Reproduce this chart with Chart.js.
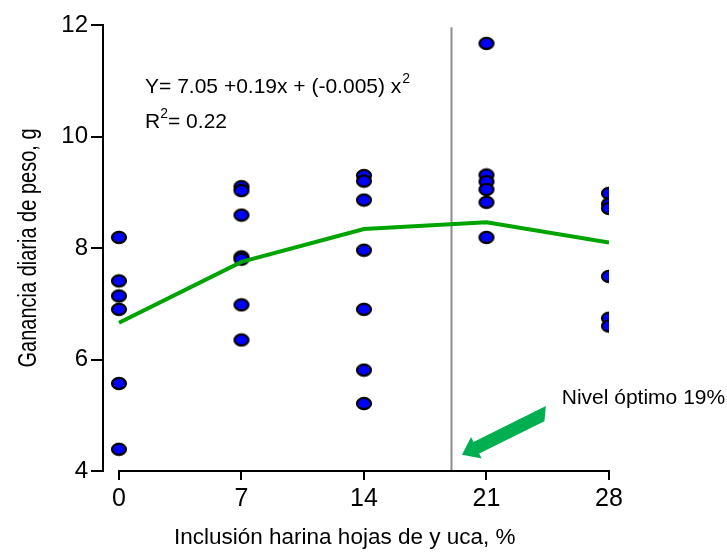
<!DOCTYPE html>
<html>
<head>
<meta charset="utf-8">
<script src="https://cdn.jsdelivr.net/npm/chart.js@4.4.1/dist/chart.umd.min.js"></script>
<style>
  body { margin: 0; background: #fff; }
  #chart { display: block; }
</style>
</head>
<body>
<canvas id="chart" width="727" height="552"></canvas>
<script>
// Inclusion levels (%) and daily weight gain (g)
const levels = [0, 7, 14, 21, 28];
const gain0 = [8.19, 7.41, 7.14, 6.90, 5.57, 4.39];
const gain7 = [9.10, 9.03, 8.59, 7.84, 7.80, 6.98, 6.35];
const gain14 = [9.30, 9.20, 8.86, 7.96, 6.90, 5.81, 5.21];
const gain21 = [11.67, 9.31, 9.19, 9.05, 8.82, 8.19];
const gain28 = [8.98, 8.79, 8.71, 7.49, 6.74, 6.60];
const fitted = [6.66, 7.75, 8.34, 8.46, 8.10];
const xTicks = [0, 7, 14, 21, 28];
const yTicks = [4, 6, 8, 10, 12];
const optimo = 19;

const groups = [gain0, gain7, gain14, gain21, gain28];
const FONT = "'Liberation Sans', Arial, Helvetica, sans-serif";

// blue oval marker with black rim
function makeDot() {
  const c = document.createElement('canvas');
  c.width = 18; c.height = 15;
  const g = c.getContext('2d');
  g.beginPath();
  g.ellipse(9, 7.5, 7.0, 5.6, 0, 0, Math.PI * 2);
  g.fillStyle = '#0000ff';
  g.fill();
  g.lineWidth = 2.2;
  g.strokeStyle = '#000';
  g.stroke();
  return c;
}

const extras = {
  id: 'extras',
  beforeDatasetsDraw(chart) {
    const { ctx, chartArea, scales: { x, y } } = chart;
    ctx.save();
    // optimum level marker
    const px = x.getPixelForValue(optimo);
    ctx.strokeStyle = '#8c8c8c';
    ctx.lineWidth = 2;
    ctx.beginPath();
    ctx.moveTo(px, y.getPixelForValue(11.96));
    ctx.lineTo(px, chartArea.bottom);
    ctx.stroke();
    // x axis line only spans 0..28
    ctx.strokeStyle = '#000';
    ctx.beginPath();
    ctx.moveTo(x.getPixelForValue(xTicks[0]) - 1, chartArea.bottom);
    ctx.lineTo(x.getPixelForValue(xTicks[xTicks.length - 1]) + 1, chartArea.bottom);
    ctx.stroke();
    ctx.restore();
  },
  afterDraw(chart) {
    const { ctx, chartArea, scales: { x, y } } = chart;
    ctx.save();
    ctx.fillStyle = '#000';
    ctx.textBaseline = 'middle';
    ctx.textAlign = 'left';

    // y axis title, narrow lettering
    ctx.save();
    ctx.translate(29, (chartArea.top + chartArea.bottom) / 2);
    ctx.rotate(-Math.PI / 2);
    ctx.scale(0.8, 1);
    ctx.textAlign = 'center';
    ctx.font = '25px ' + FONT;
    ctx.fillText('Ganancia diaria de peso, g', 0, 0);
    ctx.restore();

    // x axis title, sits a little left of the axis centre
    ctx.save();
    ctx.textAlign = 'center';
    ctx.font = '22.5px ' + FONT;
    ctx.fillText('Inclusión harina hojas de y uca, %', x.getPixelForValue(12.9), chart.height - 14);
    ctx.restore();

    // equation + R2
    ctx.font = '21px ' + FONT;
    let tx = x.getPixelForValue(1.49), ty = y.getPixelForValue(10.89);
    const eq = 'Y= 7.05 +0.19x + (-0.005) x';
    ctx.fillText(eq, tx, ty);
    let w = ctx.measureText(eq).width;
    ctx.font = '14px ' + FONT;
    ctx.fillText('2', tx + w + 1, ty - 8);

    ty = y.getPixelForValue(10.26);
    ctx.font = '21px ' + FONT;
    ctx.fillText('R', tx, ty);
    w = ctx.measureText('R').width;
    ctx.font = '14px ' + FONT;
    ctx.fillText('2', tx + w, ty - 8);
    const w2 = ctx.measureText('2').width;
    ctx.font = '21px ' + FONT;
    ctx.fillText('= 0.22', tx + w + w2, ty);

    // label and arrow for the optimum
    ctx.font = '21px ' + FONT;
    ctx.fillText('Nivel óptimo 19%', x.getPixelForValue(25.3), y.getPixelForValue(5.31));

    const t0 = { x: x.getPixelForValue(24.3), y: y.getPixelForValue(5.02) };
    const t1 = { x: x.getPixelForValue(19.6), y: y.getPixelForValue(4.29) };
    const dx = t1.x - t0.x, dy = t1.y - t0.y;
    const len = Math.hypot(dx, dy);
    const ux = dx / len, uy = dy / len, nx = -uy, ny = ux;
    const body = 6.5, head = 12, headLen = 16;
    const bx = t1.x - ux * headLen, by = t1.y - uy * headLen;
    ctx.fillStyle = '#00b050';
    ctx.beginPath();
    ctx.moveTo(t0.x + nx * body - ux * 5, t0.y + ny * body - uy * 5);
    ctx.lineTo(bx + nx * body, by + ny * body);
    ctx.lineTo(bx + nx * head, by + ny * head);
    ctx.lineTo(t1.x, t1.y);
    ctx.lineTo(bx - nx * head, by - ny * head);
    ctx.lineTo(bx - nx * body, by - ny * body);
    ctx.lineTo(t0.x - nx * body + ux * 3, t0.y - ny * body + uy * 3);
    ctx.closePath();
    ctx.fill();
    ctx.restore();
  }
};

const points = [];
groups.forEach((vals, i) => vals.forEach(v => points.push({ x: levels[i], y: v })));

new Chart(document.getElementById('chart'), {
  type: 'scatter',
  data: {
    datasets: [
      {
        type: 'line',
        data: levels.map((lv, i) => ({ x: lv, y: fitted[i] })),
        borderColor: '#00a400',
        borderWidth: 4,
        pointRadius: 0,
        fill: false,
        tension: 0,
        order: 0
      },
      {
        data: points,
        pointStyle: makeDot(),
        pointRadius: 8,
        order: 1
      }
    ]
  },
  options: {
    responsive: false,
    animation: false,
    devicePixelRatio: 1,
    layout: { padding: { left: 10, top: 25, right: 118, bottom: 0 } },
    plugins: { legend: { display: false }, tooltip: { enabled: false } },
    scales: {
      x: {
        type: 'linear',
        min: -0.914,
        max: 28,
        afterBuildTicks: s => { s.ticks = xTicks.map(v => ({ value: v })); },
        afterFit: s => { s.height = 81; },
        border: { display: false },
        grid: { drawOnChartArea: false, tickLength: 9, color: '#000', lineWidth: 2 },
        ticks: { color: '#000', padding: 4, font: { family: FONT, size: 25 } }
      },
      y: {
        min: 4,
        max: 12,
        afterBuildTicks: s => { s.ticks = yTicks.map(v => ({ value: v })); },
        afterFit: s => { s.width = 93; },
        border: { display: true, color: '#000', width: 2 },
        grid: { drawOnChartArea: false, tickLength: 12, color: '#000', lineWidth: 2 },
        ticks: { color: '#000', padding: 3, font: { family: FONT, size: 24 } }
      }
    }
  },
  plugins: [extras]
});
</script>
</body>
</html>
